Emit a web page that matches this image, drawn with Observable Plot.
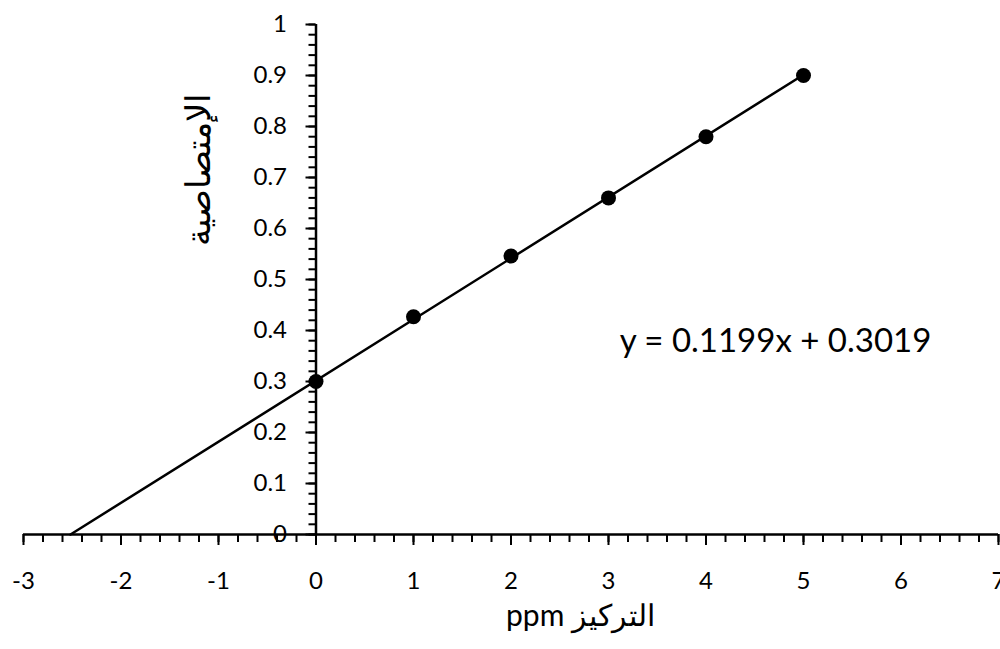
<!DOCTYPE html>
<html>
<head>
<meta charset="utf-8">
<script src="https://cdn.jsdelivr.net/npm/d3@7"></script>
<script src="https://cdn.jsdelivr.net/npm/@observablehq/plot@0.6"></script>
<style>
  html, body { margin: 0; padding: 0; background: #fff; }
  svg { display: block; }
</style>
</head>
<body>
<div id="chart"></div>
<script>
// Data
const concentration = [0, 1, 2, 3, 4, 5];
const absorbance = [0.30, 0.427, 0.546, 0.66, 0.78, 0.90];
const slope = 0.1199;
const intercept = 0.3019;
const equationLabel = "y = 0.1199x + 0.3019";
const xTitle = "التركيز ppm";
const yTitle = "الإمتصاصية";
const xMajorTicks = [-3, -2, -1, 0, 1, 2, 3, 4, 5, 6, 7];
const yMajorTicks = [0, 0.1, 0.2, 0.3, 0.4, 0.5, 0.6, 0.7, 0.8, 0.9, 1];
const xMinorTicks = d3.range(-3, 7.0001, 0.2).map(v => +v.toFixed(2));
const yMinorTicks = d3.range(0, 1.0001, 0.02).map(v => +v.toFixed(2));

const points = concentration.map((x, i) => ({x, y: absorbance[i]}));
// trendline (Excel backward forecast to y = 0)
const trendX = [-intercept / slope, 5];
const trend = trendX.map(x => ({x, y: slope * x + intercept}));

const W = 1000, H = 649;
const mL = 23, mR = 2, mT = 24, mB = 115;
const xDomain = [-3, 7];
const yAxisDx = (0 - xDomain[0]) / (xDomain[1] - xDomain[0]) * (W - mL - mR);

const font = "Lato, 'Open Sans', sans-serif";

const chart = Plot.plot({
  width: W,
  height: H,
  marginLeft: mL,
  marginRight: mR,
  marginTop: mT,
  marginBottom: mB,
  style: {fontFamily: font, background: "#fff", color: "#000"},
  x: {domain: xDomain},
  y: {domain: [0, 1]},
  marks: [
    // x-axis ticks
    Plot.axisX({ticks: xMinorTicks, tickSize: 8, text: null, label: null, strokeWidth: 2}),
    Plot.axisX({ticks: xMajorTicks, tickSize: 11, tickPadding: 26, fontSize: 24, label: null, strokeWidth: 2, tickFormat: d => String(d)}),
    // y-axis ticks (axis crosses at x = 0)
    Plot.axisY({anchor: "left", dx: yAxisDx, ticks: yMinorTicks, tickSize: 7, text: null, label: null, strokeWidth: 2}),
    Plot.axisY({anchor: "left", dx: yAxisDx, ticks: yMajorTicks, tickSize: 10, tickPadding: 19, fontSize: 24, label: null, strokeWidth: 2, tickFormat: d => String(d)}),
    // axis lines
    Plot.ruleY([0], {stroke: "#000", strokeWidth: 2.5}),
    Plot.ruleX([0], {stroke: "#000", strokeWidth: 2.5}),
    // trendline
    Plot.line(trend, {x: "x", y: "y", stroke: "#000", strokeWidth: 2.5}),
    // data points
    Plot.dot(points, {x: "x", y: "y", r: 7.5, fill: "#000", stroke: "none"}),
    // equation
    Plot.text([equationLabel], {frameAnchor: "top-left", dx: 775 - mL, dy: 328 - mT, fontSize: 33, textAnchor: "middle", fill: "#000"}),
    // axis titles
    Plot.text([xTitle], {frameAnchor: "bottom-left", dx: 580 - mL, dy: 625 - (H - mB), fontSize: 30, textAnchor: "middle", fill: "#000", text: d => "\u202B" + d + "\u202C"}),
    Plot.text([yTitle], {frameAnchor: "top-left", dx: 185 - mL, dy: 169 - mT, fontSize: 34, rotate: -90, textAnchor: "middle", fill: "#000"})
  ]
});
document.getElementById("chart").appendChild(chart);
</script>
</body>
</html>
